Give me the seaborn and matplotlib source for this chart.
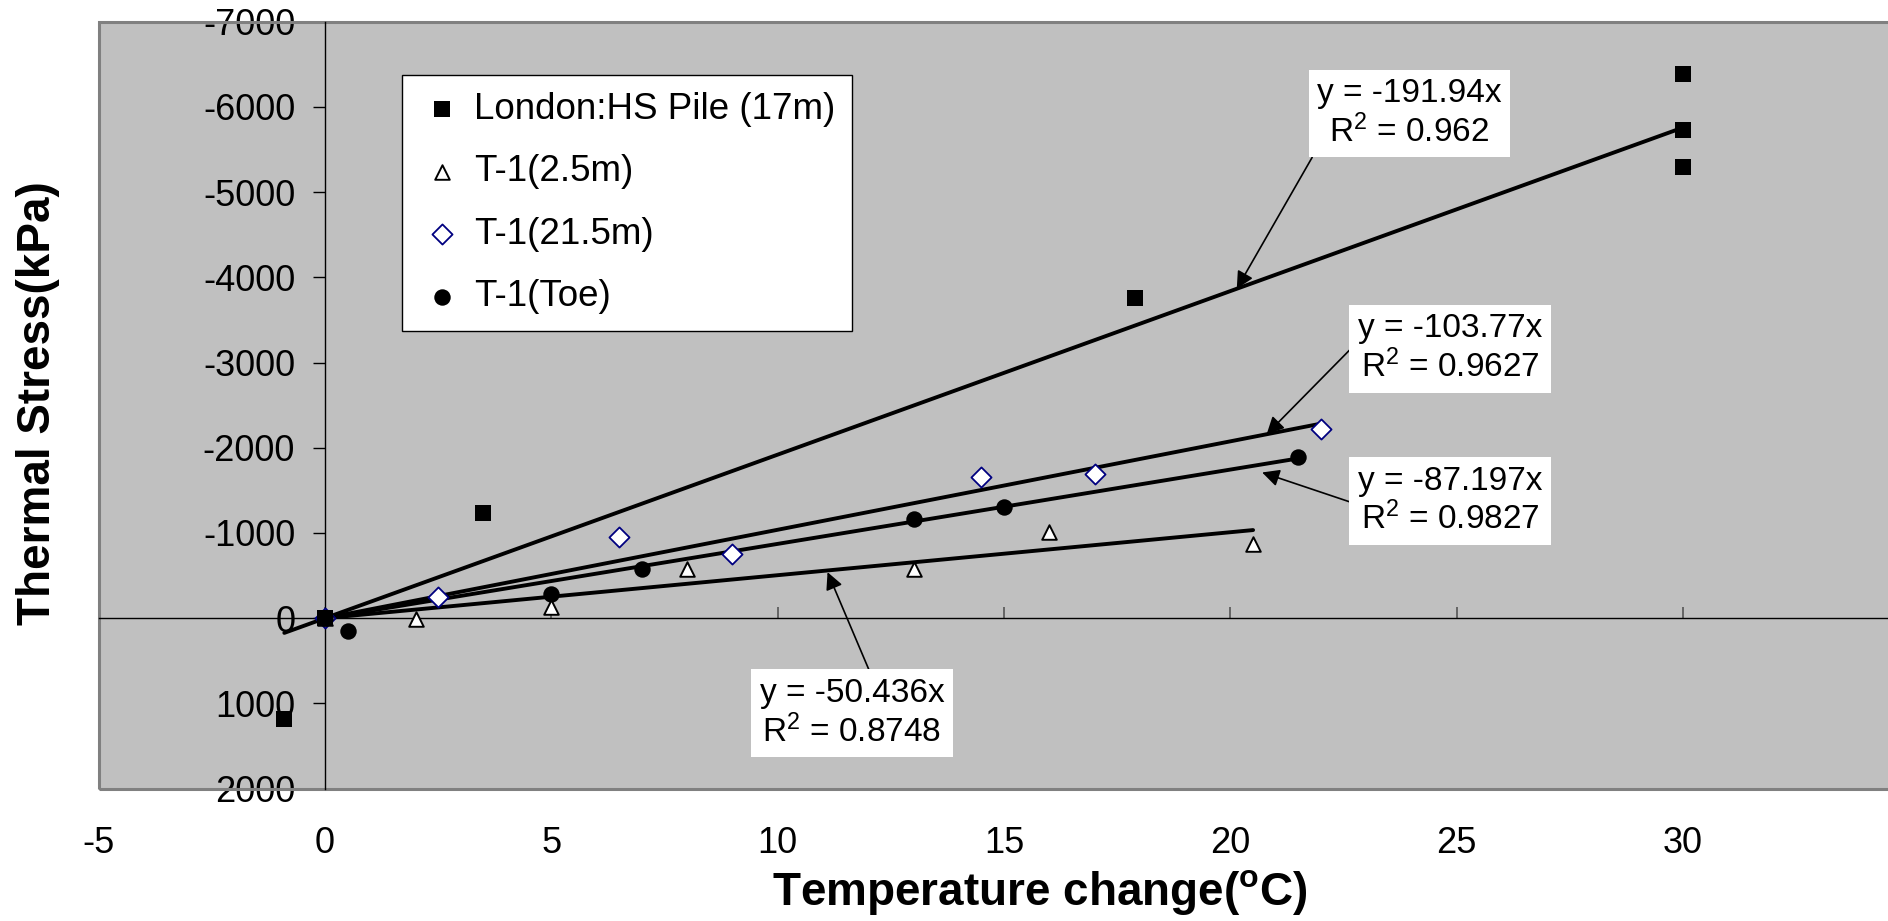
import numpy as np
import pandas as pd
import matplotlib
matplotlib.use("Agg")
import matplotlib.pyplot as plt
import matplotlib.patches as mpatches
import seaborn as sns

# ---- measured thermal stress vs. temperature change ----
london_x = [-0.9, 0, 3.5, 17.9, 30, 30, 30]
london_y = [1185, 0, -1237, -3757, -6381, -5731, -5300]

t1_25_x = [0, 2, 5, 8, 13, 16, 20.5]
t1_25_y = [0, 15, -130, -578, -573, -1012, -866]

t1_215_x = [0, 2.5, 6.5, 9, 14.5, 17, 22]
t1_215_y = [0, -247, -958, -755, -1657, -1690, -2215]

t1_toe_x = [0, 0.5, 5, 7, 13, 15, 21.5]
t1_toe_y = [0, 153, -287, -578, -1163, -1304, -1893]

series_names = ["London:HS Pile (17m)", "T-1(2.5m)", "T-1(21.5m)", "T-1(Toe)"]

# linear trendlines through the origin (slope, R^2)
fit_slopes = [-191.94, -50.436, -103.77, -87.197]
fit_r2 = ["0.962", "0.8748", "0.9627", "0.9827"]

x_ticks = [-5, 0, 5, 10, 15, 20, 25, 30]
y_ticks = [-7000, -6000, -5000, -4000, -3000, -2000, -1000, 0, 1000, 2000]

sns.set_theme(style="white")
plt.rcParams["font.family"] = ["Liberation Sans", "DejaVu Sans"]
plt.rcParams["mathtext.fontset"] = "custom"
plt.rcParams["mathtext.rm"] = "Liberation Sans"
plt.rcParams["mathtext.bf"] = "Liberation Sans:bold"
plt.rcParams["mathtext.default"] = "regular"
plt.rcParams["axes.unicode_minus"] = False
for key in ("text.color", "axes.labelcolor", "xtick.color", "ytick.color",
            "xtick.labelcolor", "ytick.labelcolor"):
    plt.rcParams[key] = "black"

fig = plt.figure(figsize=(18.88, 9.21), dpi=100)
fig.patch.set_facecolor("white")
ax = fig.add_axes([0.05228, 0.14376, 0.9591, 0.8327])
ax.set_facecolor("#C0C0C0")

ax.set_xlim(-5, 35)
ax.set_ylim(2000, -7000)

# trendlines, spanning each series' range
all_x = [london_x, t1_25_x, t1_215_x, t1_toe_x]
for xs, slope in zip(all_x, fit_slopes):
    xf = np.array([min(xs), max(xs)], dtype=float)
    df = pd.DataFrame({"x": xf, "y": slope * xf})
    sns.lineplot(data=df, x="x", y="y", sort=False, estimator=None,
                 color="black", linewidth=2.8, ax=ax, zorder=3, legend=False)

# data points
sns.scatterplot(x=t1_215_x, y=t1_215_y, marker="D", s=105, color="white",
                edgecolor="#000080", linewidth=1.3, label=series_names[2],
                ax=ax, zorder=4)
sns.scatterplot(x=t1_toe_x, y=t1_toe_y, marker="o", s=140, color="black",
                edgecolor="black", linewidth=0, label=series_names[3],
                ax=ax, zorder=4)
sns.scatterplot(x=t1_25_x, y=t1_25_y, marker="^", s=110, color="white",
                edgecolor="black", linewidth=1.4, label=series_names[1],
                ax=ax, zorder=4)
sns.scatterplot(x=london_x, y=london_y, marker="s", s=125, color="black",
                edgecolor="black", linewidth=0, label=series_names[0],
                ax=ax, zorder=5)

# axes through the origin
ax.spines["left"].set_position(("data", 0))
ax.spines["bottom"].set_position(("data", 0))
ax.spines["top"].set_visible(False)
ax.spines["right"].set_visible(False)
for sp in ("left", "bottom"):
    ax.spines[sp].set_color("black")
    ax.spines[sp].set_linewidth(1.0)
    ax.spines[sp].set_zorder(2)

ax.set_yticks(y_ticks)
ax.set_yticklabels([str(v) for v in y_ticks])
ax.tick_params(axis="y", direction="out", length=8.5, width=1.0,
               color="black", labelcolor="black", labelsize=26, pad=13,
               left=True)
ax.set_xticks(x_ticks)
ax.tick_params(axis="x", direction="in", length=8, width=1.2,
               color="#555555", labelbottom=False, bottom=True)

# x tick labels along the bottom of the plot area
sec = ax.secondary_xaxis("bottom")
sec.set_xticks(x_ticks)
sec.set_xticklabels([str(v) for v in x_ticks])
sec.tick_params(axis="x", length=0, labelsize=26, pad=27,
                labelcolor="black")
for sp in sec.spines.values():
    sp.set_visible(False)

# plot-area border
ax.add_patch(mpatches.Rectangle((0, 0), 1, 1, transform=ax.transAxes,
                                fill=False, edgecolor="#808080", linewidth=2.2,
                                clip_on=False, zorder=1))

ax.set_xlabel("Temperature change($^{\\mathbf{o}}$C)", fontsize=33,
              fontweight="bold", color="black")
ax.xaxis.label.set_va("baseline")
ax.xaxis.set_label_coords(0.5198, -0.1518)
ax.set_ylabel("Thermal Stress(kPa)", fontsize=33, fontweight="bold",
              color="black")
ax.yaxis.label.set_va("center")
ax.yaxis.set_label_coords(-0.0335, 0.503)

# trendline equation labels with arrows
label_specs = [
    # series index, text center, arrow tip x, arrow tip y offset, tail relpos
    (0, (23.95, -5922), 20.14, 0, (0.0, 0.0)),
    (2, (24.85, -3161), 20.8, 0, (0.0, 0.6)),
    (3, (24.85, -1375), 20.7, 95, (0.0, 0.45)),
    (1, (11.64, 1116), 11.1, 20, (0.61, 1.0)),
]
for idx, center, tip_x, dy, rel in label_specs:
    slope = fit_slopes[idx]
    txt = f"y = {slope}x\nR$^2$ = {fit_r2[idx]}"
    ax.annotate(txt, xy=(tip_x, slope * tip_x + dy), xytext=center,
                textcoords="data", ha="center", va="center",
                multialignment="center", fontsize=24, color="black", zorder=6,
                bbox=dict(boxstyle="square,pad=0.25", fc="white", ec="none"),
                arrowprops=dict(arrowstyle="-|>", color="black", lw=1.2,
                                mutation_scale=26, shrinkA=0, shrinkB=0,
                                relpos=rel))

# legend in the original series order
handles, labels = ax.get_legend_handles_labels()
order = [labels.index(n) for n in series_names]
leg = ax.legend([handles[i] for i in order], [labels[i] for i in order],
                loc="upper left", bbox_to_anchor=(0.1675, 0.9304),
                borderaxespad=0, frameon=True, fancybox=False,
                facecolor="white", edgecolor="black", framealpha=1,
                fontsize=26.5, labelspacing=0.75, borderpad=0.45,
                handlelength=1.3, handletextpad=0.2, labelcolor="black")
leg.get_frame().set_linewidth(1.0)
leg.set_zorder(7)

fig.savefig("out.png", dpi=100)
